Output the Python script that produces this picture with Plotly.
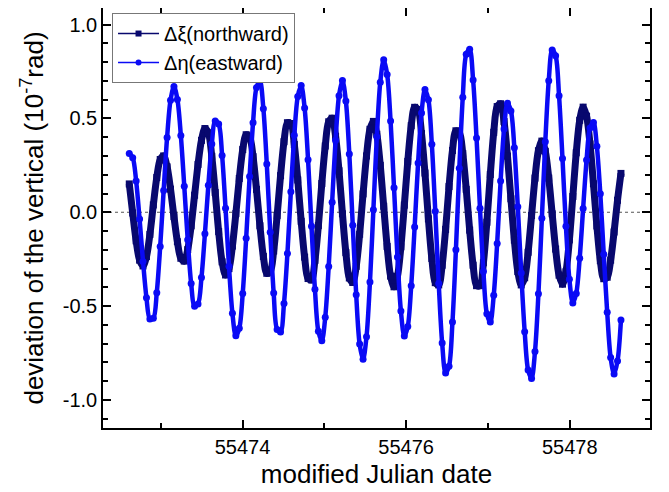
import numpy as np
import plotly.graph_objects as go

# ---- data (hourly samples) ----
T_START = 55472.616
T_END = 55478.625

xi_north = [
    0.151, -0.004, -0.152, -0.255, -0.286, -0.236, -0.118, 0.039, 0.185, 0.281,
    0.300, 0.242, 0.123, -0.023, -0.157, -0.245, -0.260, -0.199, -0.072, 0.091,
    0.255, 0.383, 0.446, 0.423, 0.298, 0.105, -0.103, -0.264, -0.334, -0.300,
    -0.180, -0.007, 0.180, 0.334, 0.413, 0.401, 0.296, 0.122, -0.072, -0.235,
    -0.325, -0.317, -0.206, -0.018, 0.195, 0.376, 0.477, 0.473, 0.361, 0.172,
    -0.048, -0.239, -0.353, -0.360, -0.256, -0.071, 0.153, 0.353, 0.482, 0.501,
    0.405, 0.221, -0.008, -0.215, -0.350, -0.374, -0.288, -0.117, 0.098, 0.300,
    0.442, 0.484, 0.416, 0.250, 0.032, -0.182, -0.340, -0.397, -0.341, -0.184,
    0.038, 0.271, 0.461, 0.559, 0.547, 0.419, 0.209, -0.035, -0.246, -0.375,
    -0.387, -0.282, -0.091, 0.137, 0.329, 0.434, 0.426, 0.312, 0.122, -0.095,
    -0.282, -0.391, -0.391, -0.269, -0.053, 0.201, 0.426, 0.563, 0.578, 0.483,
    0.299, 0.072, -0.148, -0.316, -0.387, -0.349, -0.213, -0.017, 0.182, 0.328,
    0.379, 0.325, 0.182, -0.008, -0.196, -0.335, -0.383, -0.317, -0.147, 0.084,
    0.317, 0.490, 0.560, 0.512, 0.364, 0.152, -0.073, -0.258, -0.354, -0.346,
    -0.255, -0.105, 0.064, 0.207,
]

eta_east = [
    0.313, 0.291, 0.167, -0.036, -0.262, -0.455, -0.568, -0.565, -0.428, -0.182,
    0.116, 0.398, 0.597, 0.670, 0.601, 0.409, 0.138, -0.147, -0.380, -0.500,
    -0.488, -0.348, -0.115, 0.144, 0.364, 0.486, 0.470, 0.303, 0.021, -0.288,
    -0.538, -0.658, -0.618, -0.432, -0.139, 0.190, 0.477, 0.664, 0.699, 0.552,
    0.257, -0.106, -0.430, -0.624, -0.638, -0.486, -0.219, 0.109, 0.410, 0.616,
    0.675, 0.556, 0.280, -0.075, -0.410, -0.634, -0.684, -0.559, -0.289, 0.053,
    0.383, 0.621, 0.702, 0.592, 0.311, -0.069, -0.439, -0.702, -0.783, -0.663,
    -0.372, 0.014, 0.402, 0.692, 0.812, 0.734, 0.486, 0.131, -0.238, -0.526,
    -0.659, -0.608, -0.392, -0.078, 0.263, 0.529, 0.654, 0.599, 0.362, 0.005,
    -0.379, -0.696, -0.856, -0.820, -0.584, -0.200, 0.235, 0.613, 0.841, 0.868,
    0.705, 0.396, 0.022, -0.316, -0.540, -0.585, -0.442, -0.166, 0.166, 0.443,
    0.581, 0.540, 0.343, 0.030, -0.324, -0.636, -0.840, -0.885, -0.742, -0.434,
    -0.032, 0.376, 0.701, 0.864, 0.834, 0.620, 0.286, -0.075, -0.357, -0.483,
    -0.432, -0.245, 0.020, 0.278, 0.449, 0.478, 0.351, 0.098, -0.224, -0.533,
    -0.774, -0.862, -0.792, -0.574,
]

mjd = np.linspace(T_START, T_END, len(xi_north))

X_RANGE = [55472.295, 55478.98]
Y_RANGE = [-1.149, 1.088]
Y_TICKS = [-1.0, -0.5, 0.0, 0.5, 1.0]
Y_TICKTEXT = ["-1.0", "-0.5", "0.0", "0.5", "1.0"]

NAVY = "#08086e"
BLUE = "#0a0af5"
FONT = "Arial, Liberation Sans, sans-serif"

fig = go.Figure()

# data traces
fig.add_trace(go.Scatter(
    x=mjd, y=xi_north, mode="lines+markers", showlegend=False,
    line=dict(color=NAVY, width=7, shape="spline", smoothing=0.9),
    marker=dict(symbol="square", size=7, color=NAVY),
))
fig.add_trace(go.Scatter(
    x=mjd, y=eta_east, mode="lines+markers", showlegend=False,
    line=dict(color=BLUE, width=4.5, shape="spline", smoothing=0.9),
    marker=dict(symbol="circle", size=7, color=BLUE),
))

# legend entries
fig.add_trace(go.Scatter(
    x=[None], y=[None], mode="lines+markers", name="Δξ(northward)",
    line=dict(color=NAVY, width=1.5),
    marker=dict(symbol="square", size=6, color=NAVY),
))
fig.add_trace(go.Scatter(
    x=[None], y=[None], mode="lines+markers", name="Δη(eastward)",
    line=dict(color=BLUE, width=1.5),
    marker=dict(symbol="circle", size=6, color=BLUE),
))

fig.add_shape(type="line", xref="paper", x0=0, x1=1, yref="y", y0=0, y1=0,
              line=dict(color="#555555", width=1.2, dash="dot"), layer="below")

# the page body has an 8 px margin, so the figure is drawn 8 px smaller
fig.update_layout(
    width=661, height=484,
    margin=dict(l=95, r=19, t=0, b=64, autoexpand=False),
    paper_bgcolor="white", plot_bgcolor="white",
    font=dict(family=FONT, color="black"),
    legend=dict(
        x=0.0165, y=0.988, xanchor="left", yanchor="top",
        bgcolor="white", bordercolor="#777777", borderwidth=1,
        font=dict(size=20, family=FONT), itemwidth=41,
        tracegroupgap=0,
    ),
    xaxis=dict(
        range=X_RANGE, showgrid=False, zeroline=False,
        showline=True, linecolor="black", linewidth=1.5, mirror="ticks",
        ticks="inside", ticklen=8, tickwidth=1.5, tickcolor="black",
        tickmode="linear", tick0=55474, dtick=2, tickformat="d",
        tickfont=dict(size=20, family=FONT),
        minor=dict(ticks="inside", ticklen=5, tickwidth=1.5, tickcolor="black",
                   dtick=1, tick0=55472, showgrid=False),
        title=dict(text="modified Julian date", font=dict(size=26, family=FONT),
                   standoff=8),
    ),
    yaxis=dict(
        range=Y_RANGE, showgrid=False, zeroline=False,
        showline=True, linecolor="black", linewidth=1.5, mirror="ticks",
        ticks="inside", ticklen=8, tickwidth=1.5, tickcolor="black",
        tickmode="array", tickvals=Y_TICKS, ticktext=Y_TICKTEXT,
        tickfont=dict(size=20, family=FONT),
        minor=dict(ticks="inside", ticklen=5, tickwidth=1.5, tickcolor="black",
                   dtick=0.1, tick0=0, showgrid=False),
        title=dict(text="deviation of the vertical (10<sup>-7</sup>rad)",
                   font=dict(size=26, family=FONT), standoff=12),
    ),
)

fig.write_html("out.html")
